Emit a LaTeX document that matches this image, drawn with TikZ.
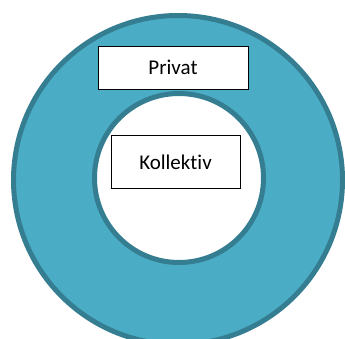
\documentclass[tikz,border=0pt]{standalone}
\usepackage{fontspec}
\setmainfont[Ligatures=NoCommon]{Carlito}
\usetikzlibrary{positioning}
\definecolor{ringfyll}{HTML}{4BACC6}
\definecolor{ringkant}{HTML}{357D91}

\begin{document}
\begin{tikzpicture}[x=1pt,y=1pt,node distance=46pt,
  ring/.style={circle, draw=ringkant, line width=5pt, inner sep=0pt},
  boks/.style={draw, fill=white, line width=0.8pt, inner sep=0pt,
    font=\fontsize{21}{25}\selectfont}]

\useasboundingbox (0,0) rectangle (345,338);

\node(ytre)[ring, fill=ringfyll, minimum size=329pt] at (178,158){};

\node(indre)[ring, fill=white, minimum size=169pt] at (179,160){};

\node(privat)[boks, minimum width=150pt, minimum height=43pt] at (173,270.5){Privat};

\node(kollektiv)[boks, minimum width=129pt, minimum height=53pt, below=of privat, xshift=2.5pt]{Kollektiv};

\end{tikzpicture}
\end{document}
